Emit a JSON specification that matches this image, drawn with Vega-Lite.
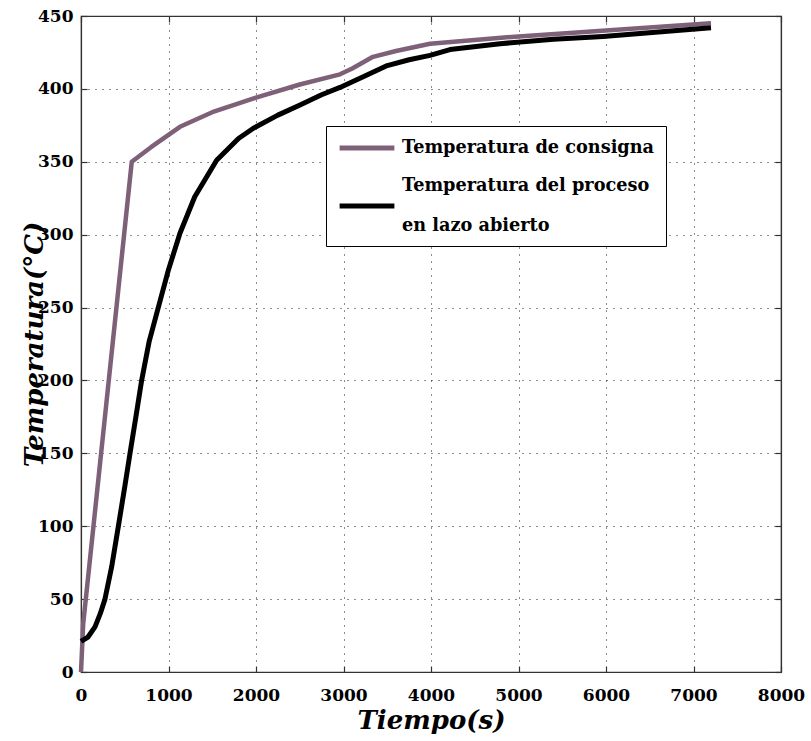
{
  "$schema": "https://vega.github.io/schema/vega-lite/v6.json",
  "width": 700,
  "height": 656,
  "autosize": {"type": "none"},
  "padding": {"left": 81, "top": 16, "right": 30, "bottom": 69},
  "background": "white",
  "config": {
    "view": {"stroke": "#333333", "strokeWidth": 1.2},
    "font": "DejaVu Serif"
  },
  "data": {
    "values": [
      {"t": 0, "temp": 0, "serie": "Temperatura de consigna"},
      {"t": 25, "temp": 33, "serie": "Temperatura de consigna"},
      {"t": 580, "temp": 350, "serie": "Temperatura de consigna"},
      {"t": 800, "temp": 360, "serie": "Temperatura de consigna"},
      {"t": 1131, "temp": 374, "serie": "Temperatura de consigna"},
      {"t": 1500, "temp": 384, "serie": "Temperatura de consigna"},
      {"t": 2000, "temp": 394, "serie": "Temperatura de consigna"},
      {"t": 2500, "temp": 403, "serie": "Temperatura de consigna"},
      {"t": 2960, "temp": 410, "serie": "Temperatura de consigna"},
      {"t": 3100, "temp": 414, "serie": "Temperatura de consigna"},
      {"t": 3337, "temp": 422, "serie": "Temperatura de consigna"},
      {"t": 3600, "temp": 426, "serie": "Temperatura de consigna"},
      {"t": 3989, "temp": 431, "serie": "Temperatura de consigna"},
      {"t": 4500, "temp": 433.5, "serie": "Temperatura de consigna"},
      {"t": 5000, "temp": 436, "serie": "Temperatura de consigna"},
      {"t": 6000, "temp": 440, "serie": "Temperatura de consigna"},
      {"t": 7200, "temp": 445, "serie": "Temperatura de consigna"},
      {"t": 0, "temp": 21, "serie": "Temperatura del proceso en lazo abierto"},
      {"t": 80, "temp": 24, "serie": "Temperatura del proceso en lazo abierto"},
      {"t": 160, "temp": 31, "serie": "Temperatura del proceso en lazo abierto"},
      {"t": 220, "temp": 40, "serie": "Temperatura del proceso en lazo abierto"},
      {"t": 274, "temp": 50, "serie": "Temperatura del proceso en lazo abierto"},
      {"t": 350, "temp": 72, "serie": "Temperatura del proceso en lazo abierto"},
      {"t": 427, "temp": 100, "serie": "Temperatura del proceso en lazo abierto"},
      {"t": 500, "temp": 127, "serie": "Temperatura del proceso en lazo abierto"},
      {"t": 560, "temp": 150, "serie": "Temperatura del proceso en lazo abierto"},
      {"t": 630, "temp": 176, "serie": "Temperatura del proceso en lazo abierto"},
      {"t": 693, "temp": 200, "serie": "Temperatura del proceso en lazo abierto"},
      {"t": 780, "temp": 227, "serie": "Temperatura del proceso en lazo abierto"},
      {"t": 870, "temp": 247, "serie": "Temperatura del proceso en lazo abierto"},
      {"t": 1000, "temp": 276, "serie": "Temperatura del proceso en lazo abierto"},
      {"t": 1131, "temp": 301, "serie": "Temperatura del proceso en lazo abierto"},
      {"t": 1300, "temp": 326, "serie": "Temperatura del proceso en lazo abierto"},
      {"t": 1550, "temp": 351, "serie": "Temperatura del proceso en lazo abierto"},
      {"t": 1800, "temp": 366, "serie": "Temperatura del proceso en lazo abierto"},
      {"t": 1970, "temp": 373, "serie": "Temperatura del proceso en lazo abierto"},
      {"t": 2250, "temp": 382, "serie": "Temperatura del proceso en lazo abierto"},
      {"t": 2503, "temp": 389, "serie": "Temperatura del proceso en lazo abierto"},
      {"t": 2750, "temp": 396, "serie": "Temperatura del proceso en lazo abierto"},
      {"t": 2960, "temp": 401, "serie": "Temperatura del proceso en lazo abierto"},
      {"t": 3250, "temp": 409, "serie": "Temperatura del proceso en lazo abierto"},
      {"t": 3500, "temp": 416, "serie": "Temperatura del proceso en lazo abierto"},
      {"t": 3750, "temp": 420, "serie": "Temperatura del proceso en lazo abierto"},
      {"t": 3989, "temp": 423, "serie": "Temperatura del proceso en lazo abierto"},
      {"t": 4217, "temp": 427, "serie": "Temperatura del proceso en lazo abierto"},
      {"t": 4789, "temp": 431, "serie": "Temperatura del proceso en lazo abierto"},
      {"t": 5400, "temp": 434, "serie": "Temperatura del proceso en lazo abierto"},
      {"t": 5966, "temp": 436, "serie": "Temperatura del proceso en lazo abierto"},
      {"t": 6600, "temp": 439, "serie": "Temperatura del proceso en lazo abierto"},
      {"t": 7200, "temp": 442, "serie": "Temperatura del proceso en lazo abierto"}
    ]
  },
  "layer": [
    {
      "transform": [{"filter": "datum.serie == 'Temperatura de consigna'"}],
      "mark": {"type": "line", "strokeWidth": 4.5, "strokeJoin": "round"},
      "encoding": {
        "x": {
          "field": "t", "type": "quantitative",
          "scale": {"domain": [0, 8000], "nice": false},
          "axis": {
            "orient": "bottom",
            "values": [0, 1000, 2000, 3000, 4000, 5000, 6000, 7000, 8000],
            "format": "d",
            "labelFont": "DejaVu Serif", "labelFontWeight": "bold", "labelFontSize": 17,
            "labelColor": "black", "labelFlush": false, "labelOverlap": false, "labelPadding": 21,
            "ticks": true, "tickSize": -6, "tickColor": "#333333", "tickWidth": 1.2,
            "domain": true, "domainColor": "#333333", "domainWidth": 1.2,
            "grid": true, "gridColor": "black", "gridDash": [1, 6], "gridWidth": 1, "gridOpacity": 0.9,
            "title": "Tiempo(s)",
            "titleFont": "DejaVu Serif", "titleFontStyle": "italic", "titleFontWeight": "bold",
            "titleFontSize": 26, "titleColor": "black",
            "titleX": 350, "titleY": 48, "titleBaseline": "middle", "titleAlign": "center"
          }
        },
        "y": {
          "field": "temp", "type": "quantitative",
          "scale": {"domain": [0, 450], "nice": false},
          "axis": {
            "orient": "left",
            "values": [0, 50, 100, 150, 200, 250, 300, 350, 400, 450],
            "format": "d",
            "labelFont": "DejaVu Serif", "labelFontWeight": "bold", "labelFontSize": 17,
            "labelColor": "black", "labelFlush": false, "labelOverlap": false, "labelPadding": 14,
            "ticks": true, "tickSize": -6, "tickColor": "#333333", "tickWidth": 1.2,
            "domain": true, "domainColor": "#333333", "domainWidth": 1.2,
            "grid": true, "gridColor": "black", "gridDash": [1, 6], "gridWidth": 1, "gridOpacity": 0.9,
            "title": "Temperatura(°C)",
            "titleFont": "DejaVu Serif", "titleFontStyle": "italic", "titleFontWeight": "bold",
            "titleFontSize": 26, "titleColor": "black",
            "titleX": -47, "titleY": 328, "titleAngle": 270, "titleBaseline": "middle", "titleAlign": "center"
          }
        },
        "color": {
          "field": "serie", "type": "nominal",
          "scale": {
            "domain": ["Temperatura de consigna", "Temperatura del proceso en lazo abierto"],
            "range": ["#7e6079", "#000000"]
          },
          "legend": {
            "orient": "none", "legendX": 245, "legendY": 110,
            "title": null,
            "strokeColor": "black", "fillColor": "white", "padding": 11,
            "symbolType": "stroke", "symbolSize": 3000, "symbolStrokeWidth": 5,
            "clipHeight": 22,
            "labelFont": "DejaVu Serif", "labelFontWeight": "bold", "labelFontSize": 17.7,
            "labelColor": "black", "labelLimit": 500, "labelOffset": 5, "rowPadding": 18,
            "labelExpr": "datum.label == 'Temperatura del proceso en lazo abierto' ? ['Temperatura del proceso', 'en lazo abierto'] : datum.label",
            "labelBaseline": "middle",
            "encode": {"labels": {"update": {"lineHeight": {"value": 40}, "dy": {"signal": "datum.index == 1 ? -20 : 0"}}}}
          }
        }
      }
    },
    {
      "transform": [{"filter": "datum.serie == 'Temperatura del proceso en lazo abierto'"}],
      "mark": {"type": "line", "strokeWidth": 5, "strokeJoin": "round"},
      "encoding": {
        "x": {
          "field": "t", "type": "quantitative",
          "scale": {"domain": [0, 8000], "nice": false},
          "axis": {
            "orient": "top",
            "values": [0, 1000, 2000, 3000, 4000, 5000, 6000, 7000, 8000],
            "labels": false, "title": null, "grid": false,
            "ticks": true, "tickSize": -6, "tickColor": "#333333", "tickWidth": 1.2,
            "domain": true, "domainColor": "#333333", "domainWidth": 1.2
          }
        },
        "y": {
          "field": "temp", "type": "quantitative",
          "scale": {"domain": [0, 450], "nice": false},
          "axis": {
            "orient": "right",
            "values": [0, 50, 100, 150, 200, 250, 300, 350, 400, 450],
            "labels": false, "title": null, "grid": false,
            "ticks": true, "tickSize": -6, "tickColor": "#333333", "tickWidth": 1.2,
            "domain": true, "domainColor": "#333333", "domainWidth": 1.2
          }
        },
        "color": {"field": "serie", "type": "nominal"}
      }
    }
  ],
  "resolve": {"axis": {"x": "independent", "y": "independent"}}
}
